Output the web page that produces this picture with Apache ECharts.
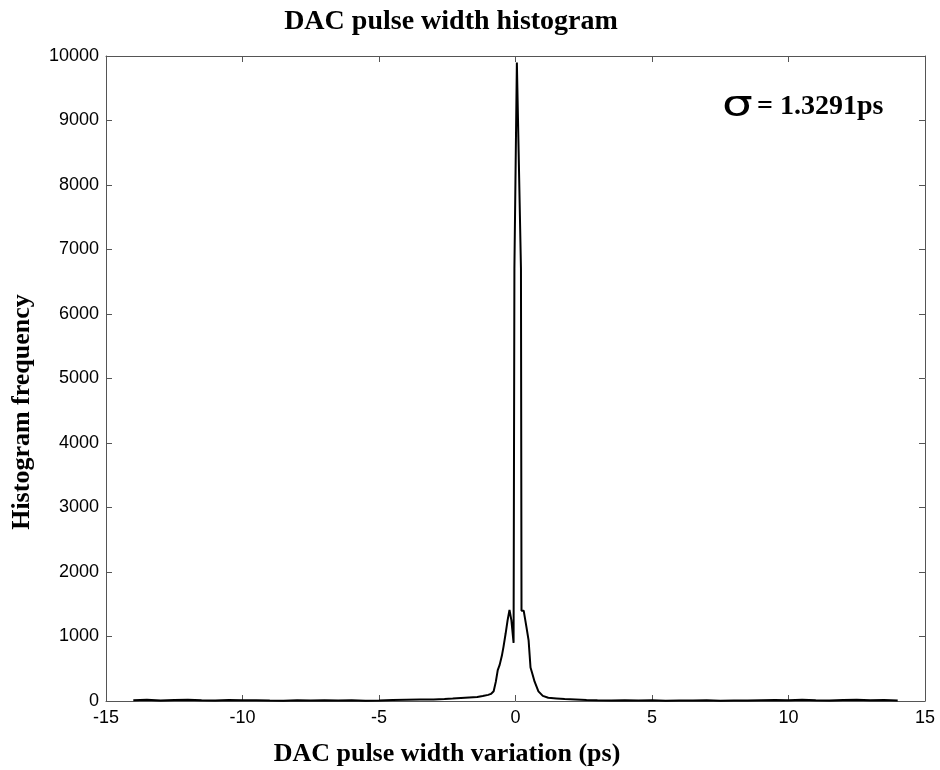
<!DOCTYPE html>
<html>
<head>
<meta charset="utf-8">
<script src="https://cdn.jsdelivr.net/npm/echarts@6/dist/echarts.min.js"></script>
<style>
  html, body { margin: 0; padding: 0; background: #fff; }
  #chart { width: 940px; height: 770px; }
</style>
</head>
<body>
<div id="chart"></div>
<script>
// Pulse width variation bins (ps) and their counts
const widthPs = [
  -14, -13.5, -13, -12.5, -12, -11.5, -11, -10.5, -10, -9.5, -9, -8.5, -8, -7.5, -7,
  -6.5, -6, -5.5, -5, -4.5, -4, -3.5, -3, -2.6, -2.3, -2.0, -1.7, -1.4, -1.2, -1.0,
  -0.9, -0.8, -0.72, -0.65, -0.58, -0.5, -0.44, -0.36, -0.29, -0.22, -0.15, -0.07,
  -0.04, 0.05, 0.2, 0.22, 0.3, 0.4, 0.48, 0.55, 0.62, 0.7, 0.84, 1.0, 1.2, 1.5,
  1.8, 2.2, 2.6, 3.0, 3.5, 4, 4.5, 5, 5.5, 6, 6.5, 7, 7.5, 8, 8.5, 9, 9.5, 10,
  10.5, 11, 11.5, 12, 12.5, 13, 13.5, 14
];
const counts = [
  10, 18, 8, 14, 20, 10, 6, 16, 10, 12, 8, 5, 10, 6, 12,
  8, 10, 5, 8, 14, 20, 25, 22, 30, 38, 48, 55, 62, 78, 95,
  110, 150, 300, 480, 560, 700, 840, 1050, 1250, 1410, 1250, 900,
  6700, 9900, 6700, 1400, 1400, 1150, 940, 520, 420, 300, 150, 80, 50, 40,
  30, 25, 15, 10, 8, 12, 6, 10, 5, 8, 6, 10, 5, 8, 6, 12,
  15, 10, 18, 12, 8, 14, 20, 10, 16, 8
];

// Axis ticks
const xTicks = { min: -15, max: 15, step: 5 };
const yTicks = { min: 0, max: 10000, step: 1000 };

const sigmaText = '= 1.3291ps';

const points = widthPs.map((x, i) => [x, counts[i]]);

const chart = echarts.init(document.getElementById('chart'), null, { renderer: 'canvas' });

const serif = '"Liberation Serif", "Times New Roman", serif';
const sans = '"Liberation Sans", Arial, sans-serif';
const axisGrey = '#555';

function frameAxis(pos, isX, showLabels) {
  const t = isX ? xTicks : yTicks;
  return {
    type: 'value',
    position: pos,
    min: t.min,
    max: t.max,
    interval: t.step,
    axisLine: { show: true, onZero: false, lineStyle: { color: axisGrey, width: 1 } },
    axisTick: { show: true, inside: true, length: 6, lineStyle: { color: axisGrey, width: 1 } },
    axisLabel: {
      show: showLabels,
      color: '#000',
      fontFamily: sans,
      fontSize: 18,
      margin: isX ? 8 : 7,
      formatter: (v) => String(v)
    },
    splitLine: { show: false }
  };
}

chart.setOption({
  backgroundColor: '#fff',
  animation: false,
  grid: { left: 106, right: 15, top: 56, bottom: 69, containLabel: false },
  xAxis: [frameAxis('bottom', true, true), frameAxis('top', true, false)],
  yAxis: [frameAxis('left', false, true), frameAxis('right', false, false)],
  series: [{
    type: 'line',
    data: points,
    xAxisIndex: 0,
    yAxisIndex: 0,
    showSymbol: false,
    symbol: 'none',
    lineStyle: { color: '#000', width: 2 },
    z: 5
  }],
  graphic: [
    {
      type: 'text',
      x: 451,
      y: 8,
      style: {
        text: 'DAC pulse width histogram',
        font: 'bold 28px ' + serif,
        fill: '#000',
        align: 'center',
        verticalAlign: 'top'
      }
    },
    {
      type: 'text',
      x: 447,
      y: 754,
      style: {
        text: 'DAC pulse width variation (ps)',
        font: 'bold 26px ' + serif,
        fill: '#000',
        align: 'center',
        verticalAlign: 'middle'
      }
    },
    {
      type: 'text',
      x: 22,
      y: 412,
      rotation: Math.PI / 2,
      style: {
        text: 'Histogram frequency',
        font: 'bold 26px ' + serif,
        fill: '#000',
        align: 'center',
        verticalAlign: 'middle'
      }
    },
    {
      type: 'text',
      x: 722,
      y: 89,
      scaleX: 1.35,
      style: {
        text: 'σ',
        font: '36px "DejaVu Sans", sans-serif',
        fill: '#000',
        align: 'left',
        verticalAlign: 'top'
      }
    },
    {
      type: 'text',
      x: 757,
      y: 93,
      style: {
        text: sigmaText,
        font: 'bold 28px ' + serif,
        fill: '#000',
        align: 'left',
        verticalAlign: 'top'
      }
    }
  ]
});
</script>
</body>
</html>
